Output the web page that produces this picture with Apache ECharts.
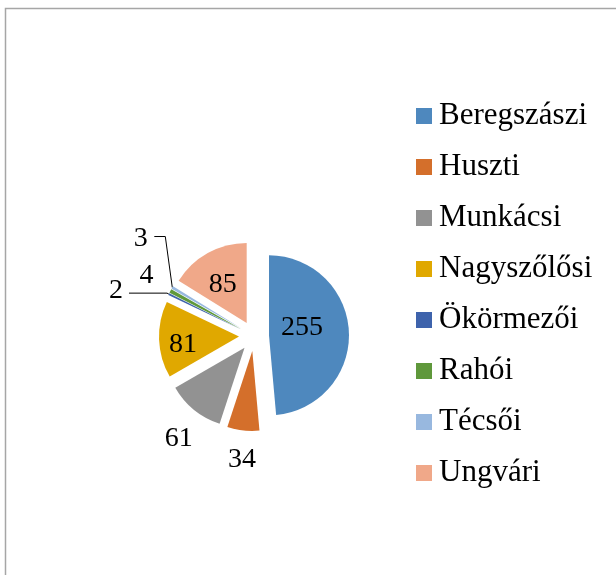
<!DOCTYPE html>
<html>
<head>
<meta charset="utf-8">
<script src="https://cdn.jsdelivr.net/npm/echarts@6/dist/echarts.min.js"></script>
<style>
  html, body { margin: 0; padding: 0; background: #fff; }
  #chart { width: 616px; height: 575px; }
</style>
</head>
<body>
<div id="chart"></div>
<script>
// járások and values
const categories = ['Beregszászi', 'Huszti', 'Munkácsi', 'Nagyszőlősi', 'Ökörmezői', 'Rahói', 'Técsői', 'Ungvári']
const values = [255, 34, 61, 81, 2, 4, 3, 85]
const colors = ['#4E88BE', '#D46F2B', '#929292', '#E0A800', '#3E63AC', '#5F983B', '#98B8DF', '#F0A889']

// which labels go inside the slice, which get a leader line
const insideLabel = [true, false, false, true, false, false, false, true]
const withLine = [false, false, false, false, true, false, true, false]
// small nudges so the labels sit where excel put them
const labelShift = [[-10, -6], [29, 19], [20, 21], [-13, 6], [-1, -2], [7, -11], [-1, -44], [-3, -1]]

const chart = echarts.init(document.getElementById('chart'))

chart.setOption({
  color: colors,
  textStyle: { fontFamily: 'Liberation Serif' },
  graphic: [{
    type: 'rect',
    shape: { x: 5.5, y: 8.5, width: 700, height: 700 },
    style: { fill: 'none', stroke: '#a6a6a6', lineWidth: 1.5 },
    silent: true
  }],
  legend: {
    orient: 'vertical',
    left: 416,
    top: 100,
    padding: 0,
    icon: 'rect',
    itemWidth: 16,
    itemHeight: 16,
    itemGap: 19,
    selectedMode: false,
    textStyle: {
      fontFamily: 'Liberation Serif',
      fontSize: 31,
      lineHeight: 32,
      color: '#000',
      padding: [0, 0, 0, 2]
    },
    data: categories
  },
  series: [{
    type: 'pie',
    center: [254, 336],
    radius: 80,
    startAngle: 90,
    clockwise: true,
    selectedMode: 'multiple',
    selectedOffset: 15,
    avoidLabelOverlap: false,
    animation: false,
    itemStyle: { borderWidth: 0 },
    label: {
      fontFamily: 'Liberation Serif',
      fontSize: 28,
      color: '#000'
    },
    labelLine: {
      lineStyle: { color: '#000', width: 1 }
    },
    labelLayout: function (params) {
      const i = params.dataIndex
      const out = { dx: labelShift[i][0], dy: labelShift[i][1] }
      if (i === 6 && params.labelLinePoints) {
        // Técsői: leader goes up from the slice, then left to the label
        const a = params.labelLinePoints[0]
        out.labelLinePoints = [a, [a[0] - 7, a[1] - 51], [a[0] - 18, a[1] - 51]]
      }
      return out
    },
    emphasis: { disabled: true },
    data: categories.map((name, i) => ({
      name: name,
      value: values[i],
      selected: true,
      label: {
        position: insideLabel[i] ? 'inside' : 'outside',
        formatter: '{c}'
      },
      labelLine: {
        show: withLine[i],
        length: i === 4 ? 2 : 10,
        length2: i === 4 ? 38 : 10
      }
    }))
  }]
})
</script>
</body>
</html>
